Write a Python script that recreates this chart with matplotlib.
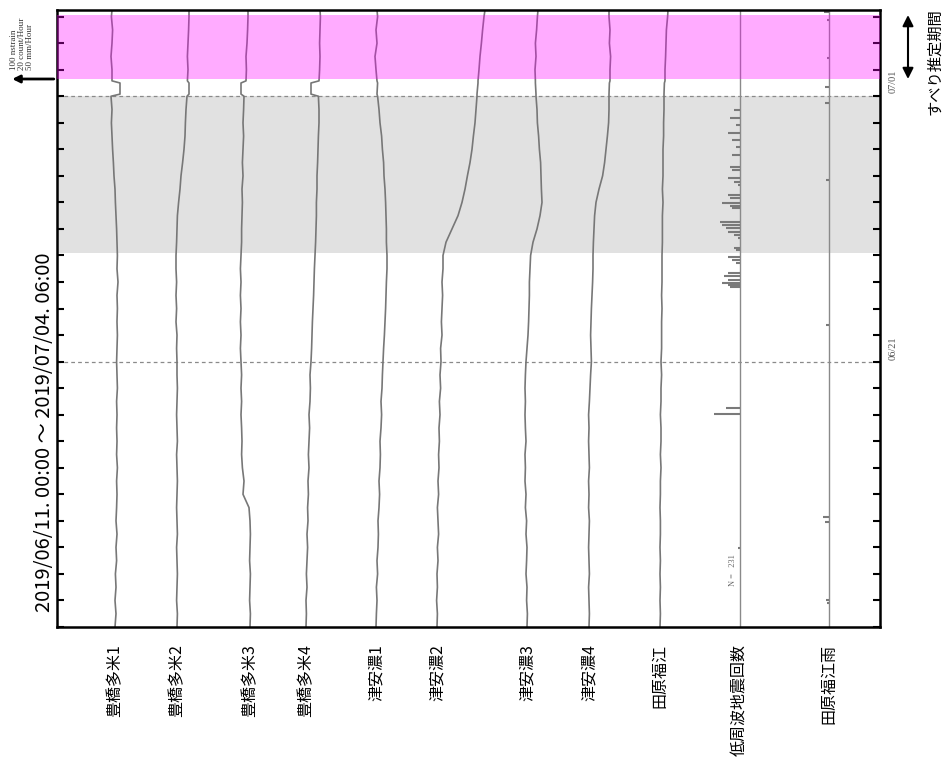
import matplotlib
matplotlib.use("Agg")
import matplotlib.pyplot as plt
import matplotlib.transforms as mtransforms

plt.rcParams['font.family'] = ['Noto Sans CJK JP', 'DejaVu Sans']

# time axis: days since 2019/06/11 00:00
days = [0, 0.5, 1, 1.5, 2, 2.5, 3, 3.5, 4, 4.5,
        5, 5.5, 6, 6.5, 7, 7.5, 8, 8.5, 9, 9.5,
        10, 10.5, 11, 11.5, 12, 12.5, 13, 13.5, 14, 14.5,
        15, 15.5, 16, 16.5, 17, 17.5, 18, 18.5, 19, 19.5,
        20, 20.08, 20.5, 20.58, 21, 21.5, 22, 22.5, 23, 23.25]

# strain changes (nstrain)
tamai1 = [0, 2.5, 0, 2.5, 1, 4, 2.5, 5, 2.5, 4,
          5, 4, 6, 4, 5, 4, 5, 4, 6, 5,
          4, 5, 6, 5, 6, 5, 7.5, 5, 6, 5,
          4, 2.5, 1, 0, -2.5, -4, -6, -7.5, -9, -7.5,
          -10, 12.5, 12.5, -7.5, -7.5, -10, -7.5, -6, -9, -7.5]
tamai2 = [0, 1, -1, 0, 1, 0, -1, 1, 0, -1,
          0, 1, 0, -1, 1, 0, -1, 0, 1, 0,
          0, -1, 0, -2.5, -1, -2.5, -1, -2.5, -2.5, -1,
          0, 1, 4, 7.5, 10, 14, 17.5, 20, 21, 22.5,
          25, 30, 30, 26, 27.5, 26, 27.5, 29, 30, 30]
tamai3 = [0, 1, -1, 0, 1, -1, 0, 1, 0, -2.5,
          -17.5, -15, -19, -21, -20, -21, -22.5, -21, -22.5, -21,
          -22.5, -24, -22.5, -24, -22.5, -24, -22.5, -24, -22.5, -21,
          -21, -20, -19, -20, -17.5, -19, -17.5, -16, -17.5, -16,
          -15, -22.5, -22.5, -10, -9, -10, -7.5, -6, -5, -5]
tamai4 = [0, 1, 0, 2.5, 1, 2.5, 4, 2.5, 5, 4,
          6, 5, 7.5, 6, 7.5, 9, 7.5, 10, 11, 10,
          12.5, 14, 15, 16, 17.5, 19, 20, 21, 22.5, 24,
          25, 26, 26, 27.5, 27.5, 29, 30, 31, 32.5, 32.5,
          31, 12.5, 12.5, 32.5, 34, 35, 34, 35, 36, 35]
ano1 = [0, 1, 2.5, 1, 4, 2.5, 5, 6, 5, 7.5,
        9, 7.5, 10, 11, 10, 12.5, 14, 12.5, 15, 16,
        17.5, 19, 21, 22.5, 24, 25, 26, 27.5, 27.5, 26,
        26, 25, 24, 22.5, 20, 19, 16, 14, 10, 7.5,
        4, 2.5, 4, 2.5, 0, -2.5, 2.5, 0, 4, 2.5]
ano2 = [0, 1, -1, 1, 0, 2.5, 1, 4, 2.5, 1,
        4, 2.5, 5, 4, 6, 5, 7.5, 6, 9, 7.5,
        10, 9, 12.5, 11, 12.5, 14, 12.5, 15, 15, 22.5,
        37.5, 52.5, 62.5, 70, 76, 82.5, 87.5, 91, 95, 97.5,
        100, 100, 102.5, 102.5, 105, 107.5, 111, 114, 117.5, 120]
ano3 = [0, 1, -1, 0, -2.5, -1, 0, -2.5, -1, -4,
        -2.5, -5, -4, -5, -2.5, -4, -5, -4, -5, -4,
        -2.5, 0, 2.5, 4, 5, 6, 6, 7.5, 9, 15,
        25, 32.5, 37.5, 36, 35, 34, 31, 29, 26, 25,
        22.5, 22.5, 21, 21, 20, 22.5, 21, 24, 26, 27.5]
ano4 = [0, 1, 0, -1, 1, 0, -1, 0, 1, -1,
        0, -1, 1, 0, -1, 0, -1, 1, 2.5, 4,
        6, 5, 4, 5, 6, 7.5, 9, 10, 10, 11,
        12.5, 14, 17.5, 25, 34, 39, 42.5, 46, 49, 50,
        50, 50, 51, 52.5, 52.5, 54, 51, 52.5, 50, 50]
fukue = [0, 1, 0, 1, 0, 1, 0, 1, 1, 0,
         1, 1, 2.5, 1, 2.5, 2.5, 1, 2.5, 2.5, 4,
         2.5, 4, 4, 4, 5, 4, 5, 5, 5, 6,
         6, 6, 7.5, 6, 7.5, 7.5, 7.5, 9, 9, 10,
         10, 10, 11, 12.5, 12.5, 14, 15, 16, 19, 20]

# low frequency earthquakes (count/hour)
lfe_days = [19.48, 19.18, 18.91, 18.61, 18.35, 18.09, 17.78, 17.33, 17.22, 16.92,
            16.77, 16.65, 16.28, 16.16, 15.98, 15.86, 15.79, 15.26, 15.15, 15.04,
            14.89, 14.77, 14.66, 14.28, 14.21, 13.94, 13.83, 13.72, 13.34, 13.23,
            13.07, 12.96, 12.89, 12.81, 8.24, 8.03, 2.98]
lfe_counts = [3, 5, 2, 6, 4, 2, 4, 5, 4, 6,
              3, 1, 6, 5, 9, 5, 4, 10, 9, 7,
              6, 3, 1, 3, 2, 6, 4, 2, 6, 8,
              6, 9, 6, 5, 7, 13, 1]

# rain at Fukue (mm/hour)
rain_days = [23.17, 22.87, 21.44, 20.35, 19.74, 16.84, 11.38, 4.14, 3.96, 1.02, 0.90]
rain_mm = [6, 2.5, 2.5, 5, 5, 3.5, 3.5, 7, 5, 3.5, 2.5]

stations = ['豊橋多米1', '豊橋多米2', '豊橋多米3', '豊橋多米4',
            '津安濃1', '津安濃2', '津安濃3', '津安濃4', '田原福江',
            '低周波地震回数', '田原福江雨']
strain_series = [tamai1, tamai2, tamai3, tamai4, ano1, ano2, ano3, ano4, fukue]

base_x = [145, 300, 482.5, 622.5, 797.5, 950, 1175, 1330, 1507.5, 1707.5, 1930]
t_end = 23.25
slip_start, slip_end = 20.65, 23.06
gray_start, gray_end = 14.1, 20.0

W, H = 949, 761
fig = plt.figure(figsize=(W / 100, H / 100), dpi=100)
ax = fig.add_axes([57 / W, 1 - 627 / H, 823 / W, 617 / H])

line_col = '#777777'

ax.axhspan(gray_start, gray_end, color='#e1e1e1', lw=0, zorder=0)
for d in [10, 20]:
    ax.axhline(d, color='#8a8a8a', lw=0.9, ls=(0, (3, 2.5)), zorder=1)

for x0, s in zip(base_x, strain_series):
    ax.plot([x0 + v for v in s], days, color=line_col, lw=1.2, zorder=2)

# low frequency earthquake histogram
lfe_x = base_x[9]
ax.axvline(lfe_x, color='#8a8a8a', lw=1.0, zorder=2)
ax.hlines(lfe_days, [lfe_x - 5 * c for c in lfe_counts], lfe_x,
          color='#7a7a7a', lw=1.5, zorder=2)
ax.text(lfe_x - 17, 2.15, 'N =   231', rotation=90, ha='center', va='center',
        fontsize=6, color='#666666', family='Liberation Serif')

# rain
rain_x = base_x[10]
ax.axvline(rain_x, color='#8a8a8a', lw=1.0, zorder=2)
ax.hlines(rain_days, [rain_x - 2 * r for r in rain_mm], rain_x,
          color='#7a7a7a', lw=1.5, zorder=2)

ax.axhspan(slip_start, slip_end, color='#ff00ff', alpha=0.33, lw=0, zorder=3)

ax.set_xlim(0, 2057.5)
ax.set_ylim(0, t_end)
ax.set_yticks(range(0, 24))
ax.tick_params(axis='y', direction='in', length=5, width=1.5, left=True, right=True,
               labelleft=False)
ax.tick_params(axis='x', bottom=False, labelbottom=False)
for sp in ax.spines.values():
    sp.set_linewidth(1.8)

# station labels
trans = mtransforms.blended_transform_factory(ax.transData, ax.transAxes)
for x0, name in zip(base_x, stations):
    ax.text(x0, -0.028, name, transform=trans, rotation=90, ha='center', va='top',
            fontsize=11.5)

# date labels on the right
trans_r = mtransforms.blended_transform_factory(ax.transAxes, ax.transData)
ax.text(1.016, 20.12, '07/01', transform=trans_r, rotation=90, ha='center', va='bottom',
        fontsize=7.5, color='#555555', family='Liberation Serif')
ax.text(1.016, 10.05, '06/21', transform=trans_r, rotation=90, ha='center', va='bottom',
        fontsize=7.5, color='#555555', family='Liberation Serif')

# slip period arrow
trans_f = mtransforms.blended_transform_factory(fig.transFigure, ax.transData)
ax.annotate('', xy=(908 / W, slip_end), xytext=(908 / W, slip_start),
            xycoords=trans_f, textcoords=trans_f, annotation_clip=False,
            arrowprops=dict(arrowstyle='<|-|>', color='black', lw=1.5,
                            mutation_scale=16, shrinkA=0, shrinkB=0))
fig.text(935 / W, 1 - 62 / H, 'すべり推定期間', rotation=90, ha='center', va='center',
         fontsize=11)

# scale arrow
ax.annotate('', xy=(-112, slip_start), xytext=(-8, slip_start),
            annotation_clip=False,
            arrowprops=dict(arrowstyle='-|>', color='black', lw=2,
                            mutation_scale=11, shrinkA=0, shrinkB=0))
fig.text(22 / W, 1 - 70 / H, '100 nstrain\n20 count/Hour\n50 mm/Hour', rotation=90,
         ha='center', va='bottom', multialignment='left', fontsize=6.5,
         linespacing=1.0, color='#333333', family='Liberation Serif')

# period label
fig.text(45 / W, 1 - 432 / H, '2019/06/11. 00:00 ～ 2019/07/04. 06:00', rotation=90,
         ha='center', va='center', fontsize=14.5)

fig.savefig('out.png', dpi=100)
